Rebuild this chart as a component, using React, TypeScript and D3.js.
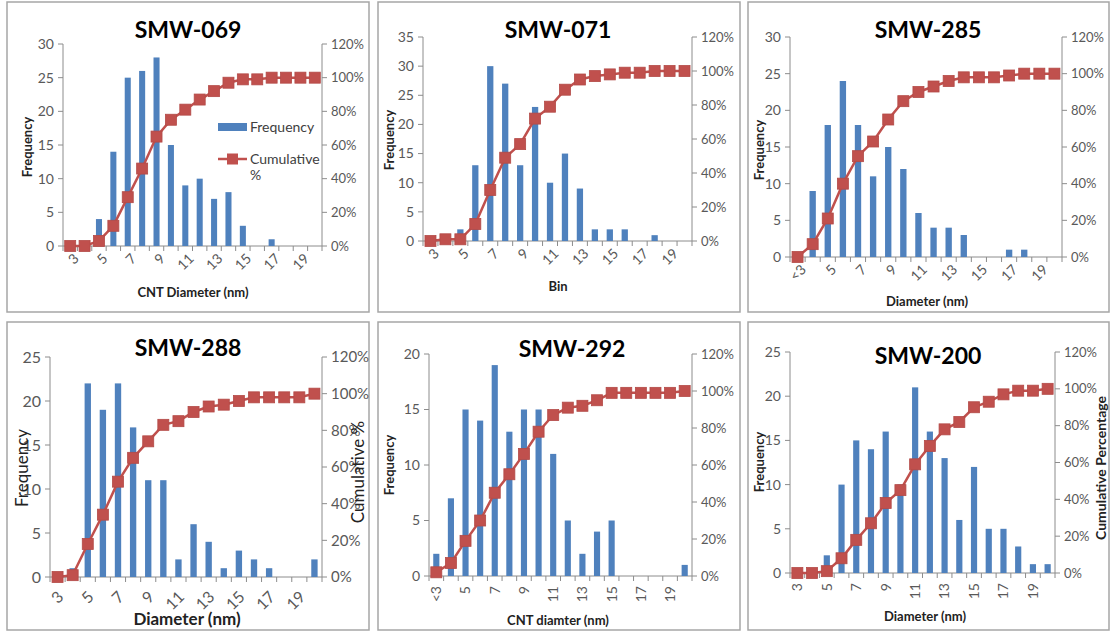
import * as d3 from 'd3';

// bins as shown on the category axis
const bins = ['3', '4', '5', '6', '7', '8', '9', '10', '11', '12', '13', '14', '15', '16', '17', '18', '19', '20'];
const binsLt = ['<3', '4', '5', '6', '7', '8', '9', '10', '11', '12', '13', '14', '15', '16', '17', '18', '19', '20'];

const freq069 = [0, 0, 4, 14, 25, 26, 28, 15, 9, 10, 7, 8, 3, 0, 1, 0, 0, 0];
const cum069 = [0, 0, 3, 12, 29, 46, 65, 75, 81, 87, 92, 97, 99, 99, 100, 100, 100, 100];

const freq071 = [0, 0, 2, 13, 30, 27, 13, 23, 10, 15, 9, 2, 2, 2, 0, 1, 0, 0];
const cum071 = [0, 1, 1, 10, 30, 49, 57, 72, 79, 89, 95, 97, 98, 99, 99, 100, 100, 100];

const freq285 = [0, 9, 18, 24, 18, 11, 15, 12, 6, 4, 4, 3, 0, 0, 1, 1, 0, 0];
const cum285 = [0, 7, 21, 40, 55, 63, 75, 85, 90, 93, 96, 98, 98, 98, 99, 100, 100, 100];

const freq288 = [0, 1, 22, 19, 22, 17, 11, 11, 2, 6, 4, 1, 3, 2, 1, 0, 0, 2];
const cum288 = [0, 1, 18, 34, 52, 65, 74, 83, 85, 90, 93, 94, 96, 98, 98, 98, 98, 100];

const freq292 = [2, 7, 15, 14, 19, 13, 15, 15, 11, 5, 2, 4, 5, 0, 0, 0, 0, 1];
const cum292 = [2, 7, 19, 30, 45, 55, 66, 78, 87, 91, 92, 95, 99, 99, 99, 99, 99, 100];

const freq200 = [0, 0, 2, 10, 15, 14, 16, 10, 21, 16, 13, 6, 12, 5, 5, 3, 1, 1];
const cum200 = [0, 0, 1, 8, 18, 27, 38, 45, 59, 69, 78, 82, 90, 93, 97, 99, 99, 100];

const pctTicks = [0, 20, 40, 60, 80, 100, 120];

const BLUE = '#4F81BD';
const RED = '#C0504D';
const AXIS = '#8c8c8c';
const TICK = '#595959';
const FONT = 'Lato, "Open Sans", sans-serif';

interface PanelProps {
  title: string;
  cats: string[];
  freq: number[];
  cum: number[];
  yMax: number;
  frame: [number, number, number, number];
  plot: { l: number; r: number; t: number; b: number };
  titlePos: [number, number];
  xLabel: string;
  xLabelPos: [number, number];
  xLabelSize?: number;
  yLabelPos: [number, number];
  yLabelSize?: number;
  yLabelBold?: boolean;
  rightLabel?: string;
  rightLabelPos?: [number, number];
  rightLabelSize?: number;
  rightLabelBold?: boolean;
  rot: number;
  tickSize?: number;
  tickOffset?: [number, number];
  legend?: boolean;
}

function Panel(p: PanelProps) {
  const { l, r, t, b } = p.plot;
  const x = d3.scaleBand<string>().domain(p.cats).range([l, r]);
  const y = d3.scaleLinear().domain([0, p.yMax]).range([b, t]);
  const yR = d3.scaleLinear().domain([0, 120]).range([b, t]);
  const bw = x.bandwidth() * 0.42;
  const cx = (c: string) => (x(c) || 0) + x.bandwidth() / 2;
  const yTicks = d3.range(0, p.yMax + 1, 5);
  const ts = p.tickSize || 14;
  const [ox, oy] = p.tickOffset || [6, 10];

  const line = d3
    .line<number>()
    .x((_, i) => cx(p.cats[i]))
    .y((d) => yR(d));

  const [fx, fy, fx2, fy2] = p.frame;

  return (
    <g fontFamily={FONT}>
      <rect x={fx} y={fy} width={fx2 - fx} height={fy2 - fy} fill="#fff" stroke="#a6a6a6" strokeWidth={1.5} />

      {/* axes */}
      <line x1={l} x2={l} y1={t} y2={b} stroke={AXIS} />
      <line x1={r} x2={r} y1={t} y2={b} stroke={AXIS} />
      <line x1={l} x2={r} y1={b} y2={b} stroke={AXIS} />
      {yTicks.map((v) => (
        <g key={'yl' + v}>
          <line x1={l - 5} x2={l} y1={y(v)} y2={y(v)} stroke={AXIS} />
          <text x={l - 9} y={y(v)} dy="0.35em" textAnchor="end" fontSize={ts} fill={TICK}>
            {v}
          </text>
        </g>
      ))}
      {pctTicks.map((v) => (
        <g key={'yr' + v}>
          <line x1={r} x2={r + 5} y1={yR(v)} y2={yR(v)} stroke={AXIS} />
          <text x={r + 9} y={yR(v)} dy="0.35em" fontSize={ts - 1} fill={TICK}>
            {v + '%'}
          </text>
        </g>
      ))}
      {p.cats.concat(['']).map((c, i) => {
        const xx = l + i * x.bandwidth();
        return <line key={'xt' + i} x1={xx} x2={xx} y1={b} y2={b + 5} stroke={AXIS} />;
      })}
      {p.cats.map((c, i) =>
        i % 2 === 0 ? (
          p.rot === -90 ? (
            <text
              key={'xl' + c}
              transform={`translate(${cx(c)},${b + 10}) rotate(-90)`}
              textAnchor="end"
              dy="0.35em"
              fontSize={ts}
              fill={TICK}
            >
              {c}
            </text>
          ) : (
            <text
              key={'xl' + c}
              transform={`translate(${cx(c) + ox},${b + oy}) rotate(-45)`}
              textAnchor="end"
              dy="0.35em"
              fontSize={ts}
              fill={TICK}
            >
              {c}
            </text>
          )
        ) : null
      )}

      {/* bars */}
      {p.freq.map((v, i) =>
        v > 0 ? (
          <rect key={'b' + i} x={cx(p.cats[i]) - bw / 2} y={y(v)} width={bw} height={b - y(v)} fill={BLUE} />
        ) : null
      )}

      {/* cumulative line */}
      <path d={line(p.cum) || ''} fill="none" stroke={RED} strokeWidth={2.5} />
      {p.cum.map((v, i) => (
        <rect
          key={'m' + i}
          x={cx(p.cats[i]) - 5.5}
          y={yR(v) - 5.5}
          width={11}
          height={11}
          fill={RED}
          stroke="#b34a47"
          strokeWidth={0.8}
        />
      ))}

      {/* titles */}
      <text x={p.titlePos[0]} y={p.titlePos[1]} textAnchor="middle" fontSize={23} fontWeight="bold" fill="#000">
        {p.title}
      </text>
      <text
        x={p.xLabelPos[0]}
        y={p.xLabelPos[1]}
        textAnchor="middle"
        fontSize={p.xLabelSize || 13}
        fontWeight="bold"
        fill="#222"
      >
        {p.xLabel}
      </text>
      <text
        transform={`translate(${p.yLabelPos[0]},${p.yLabelPos[1]}) rotate(-90)`}
        textAnchor="middle"
        fontSize={p.yLabelSize || 13}
        fontWeight={p.yLabelBold === false ? 'normal' : 'bold'}
        fill="#222"
      >
        Frequency
      </text>
      {p.rightLabel && p.rightLabelPos && (
        <text
          transform={`translate(${p.rightLabelPos[0]},${p.rightLabelPos[1]}) rotate(-90)`}
          textAnchor="middle"
          fontSize={p.rightLabelSize || 13}
          fontWeight={p.rightLabelBold === false ? 'normal' : 'bold'}
          fill="#222"
        >
          {p.rightLabel}
        </text>
      )}

      {p.legend && (
        <g fontSize={14} fill="#404040">
          <rect x={218} y={123} width={29} height={8} fill={BLUE} />
          <text x={250} y={132}>Frequency</text>
          <line x1={218} x2={247} y1={159} y2={159} stroke={RED} strokeWidth={2.5} />
          <rect x={227} y={153.5} width={11} height={11} fill={RED} />
          <text x={250} y={164}>Cumulative</text>
          <text x={250} y={180}>%</text>
        </g>
      )}
    </g>
  );
}

export default function App() {
  return (
    <svg width={1111} height={632} style={{ position: 'absolute', left: 0, top: 0, background: '#fff' }}>
      <rect width={1111} height={632} fill="#fff" />
      <Panel
        title="SMW-069"
        cats={bins}
        freq={freq069}
        cum={cum069}
        yMax={30}
        frame={[7, 2, 369, 312]}
        plot={{ l: 63, r: 322, t: 44, b: 246 }}
        titlePos={[188, 38]}
        xLabel="CNT Diameter (nm)"
        xLabelPos={[193, 297]}
        yLabelPos={[32, 147]}
        rot={-45}
        legend
      />
      <Panel
        title="SMW-071"
        cats={bins}
        freq={freq071}
        cum={cum071}
        yMax={35}
        frame={[378, 2, 740, 312]}
        plot={{ l: 423, r: 692, t: 37, b: 241 }}
        titlePos={[558, 38]}
        xLabel="Bin"
        xLabelPos={[558, 291]}
        yLabelPos={[394, 140]}
        rot={-45}
      />
      <Panel
        title="SMW-285"
        cats={binsLt}
        freq={freq285}
        cum={cum285}
        yMax={30}
        frame={[748, 2, 1109, 312]}
        plot={{ l: 790, r: 1062, t: 37, b: 257 }}
        titlePos={[928, 38]}
        xLabel="Diameter (nm)"
        xLabelPos={[927, 306]}
        yLabelPos={[764, 150]}
        rot={-45}
      />
      <Panel
        title="SMW-288"
        cats={bins}
        freq={freq288}
        cum={cum288}
        yMax={25}
        frame={[7, 322, 369, 630]}
        plot={{ l: 50, r: 322, t: 357, b: 577 }}
        titlePos={[188, 356]}
        xLabel="Diameter (nm)"
        xLabelPos={[187, 625]}
        xLabelSize={17}
        yLabelPos={[28, 468]}
        yLabelSize={17}
        yLabelBold={false}
        rightLabel="Cumulative %"
        rightLabelPos={[364, 472]}
        rightLabelSize={17}
        rightLabelBold={false}
        rot={-45}
        tickSize={16}
        tickOffset={[3, 17]}
      />
      <Panel
        title="SMW-292"
        cats={binsLt}
        freq={freq292}
        cum={cum292}
        yMax={20}
        frame={[378, 322, 740, 630]}
        plot={{ l: 429, r: 692, t: 354, b: 576 }}
        titlePos={[572, 357]}
        xLabel="CNT diamter (nm)"
        xLabelPos={[558, 625]}
        yLabelPos={[394, 465]}
        rot={-90}
      />
      <Panel
        title="SMW-200"
        cats={bins}
        freq={freq200}
        cum={cum200}
        yMax={25}
        frame={[748, 322, 1109, 630]}
        plot={{ l: 790, r: 1055, t: 352, b: 573 }}
        titlePos={[928, 364]}
        xLabel="Diameter (nm)"
        xLabelPos={[925, 621]}
        yLabelPos={[764, 462]}
        rightLabel="Cumulative Percentage"
        rightLabelPos={[1106, 468]}
        rightLabelSize={14}
        rot={-90}
      />
    </svg>
  );
}
